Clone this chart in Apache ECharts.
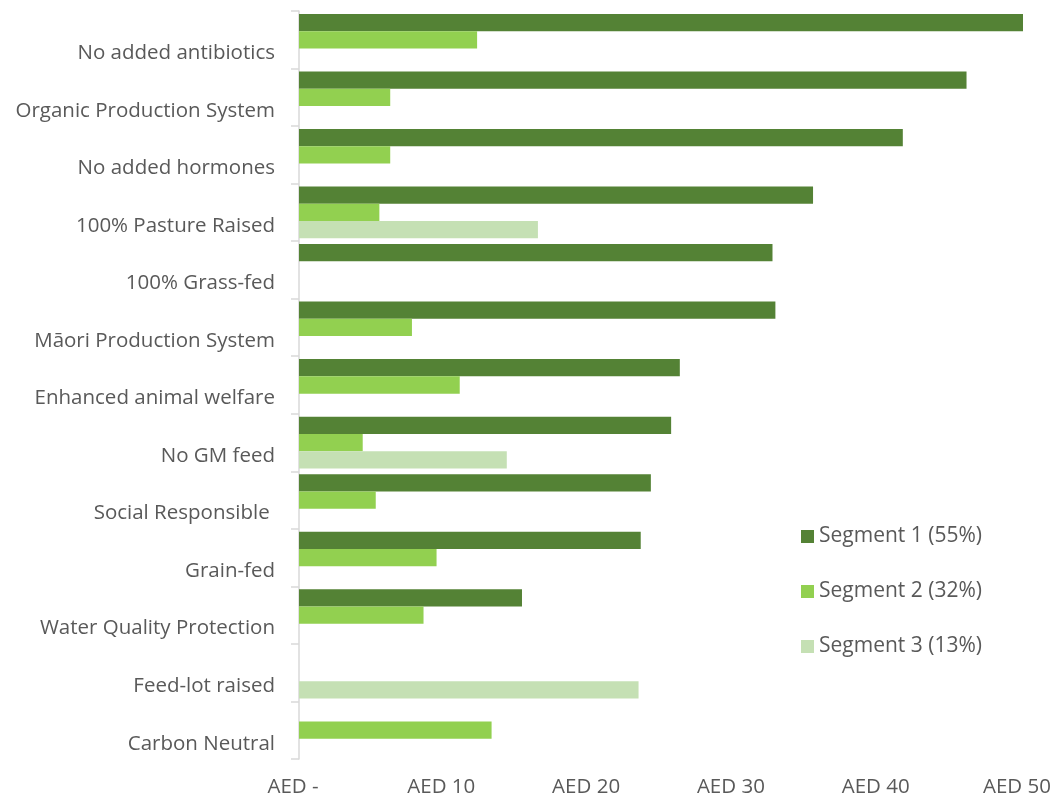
<!DOCTYPE html>
<html>
<head>
<meta charset="utf-8">
<script src="https://cdn.jsdelivr.net/npm/echarts@6/dist/echarts.min.js"></script>
<style>html,body{margin:0;padding:0;background:#fff}#c{width:1051px;height:800px}</style>
</head>
<body>
<div id="c"></div>
<script>
const categories = ["No added antibiotics","Organic Production System","No added hormones","100% Pasture Raised","100% Grass-fed","Māori Production System","Enhanced animal welfare","No GM feed","Social Responsible ","Grain-fed","Water Quality Protection","Feed-lot raised","Carbon Neutral"];
const seriesNames = ["Segment 1 (55%)","Segment 2 (32%)","Segment 3 (13%)"];
const segment1 = [50.0,46.1,41.7,35.5,32.7,32.9,26.3,25.7,24.3,23.6,15.4,null,null];
const segment2 = [12.3,6.3,6.3,5.55,null,7.8,11.1,4.4,5.3,9.5,8.6,null,13.3];
const segment3 = [null,null,null,16.5,null,null,null,14.35,null,null,null,23.45,null];
const xTicks = [0,10,20,30,40,50];
const colors = ["#548235","#92D050","#C5E0B4"];
const FONT = "'Open Sans', sans-serif";
const FS = 20.5;

const chart = echarts.init(document.getElementById('c'), null, {renderer:'canvas'});
const mk = (name, data, color) => ({
  name, type:'bar', data, barGap:'0%', barCategoryGap:'10%',
  itemStyle:{color}, emphasis:{disabled:true}
});
chart.setOption({
  animation:false,
  textStyle:{fontFamily:FONT},
  grid:{left:299, right:28, top:11, bottom:41, containLabel:false, outerBoundsMode:'none'},
  legend:{
    orient:'vertical', left:796, top:521,
    itemWidth:13, itemHeight:13, itemGap:34, itemGap:34,
    icon:'rect',
    textStyle:{fontSize:21, lineHeight:21, color:'#595959', fontFamily:FONT, padding:[0,0,0,0]},
    data:seriesNames
  },
  xAxis:{
    type:'value', min:0, max:50, interval:10,
    axisLine:{show:false}, axisTick:{show:false}, splitLine:{show:false},
    axisLabel:{fontSize:FS, color:'#595959', margin:18,
      formatter:v=> v===0 ? '{e|AED -}' : (v===50 ? '{e|AED 50}' : '{n|AED ' + v + '}'),
      rich:{
        n:{fontSize:FS, color:'#595959', fontFamily:FONT, padding:[0,5,0,0]},
        e:{fontSize:FS, color:'#595959', fontFamily:FONT, padding:[0,12,0,0]}
      },
      customValues:xTicks}
  },
  yAxis:{
    type:'category', data:categories, inverse:true,
    axisLine:{show:true, lineStyle:{color:'#d9d9d9', width:1.5}},
    axisTick:{show:true, length:8, lineStyle:{color:'#d9d9d9', width:1.5}},
    axisLabel:{fontSize:FS, color:'#595959', margin:24, verticalAlign:'top', lineHeight:27}
  },
  series:[mk(seriesNames[0],segment1,colors[0]), mk(seriesNames[1],segment2,colors[1]), mk(seriesNames[2],segment3,colors[2])]
});
</script>
</body>
</html>
